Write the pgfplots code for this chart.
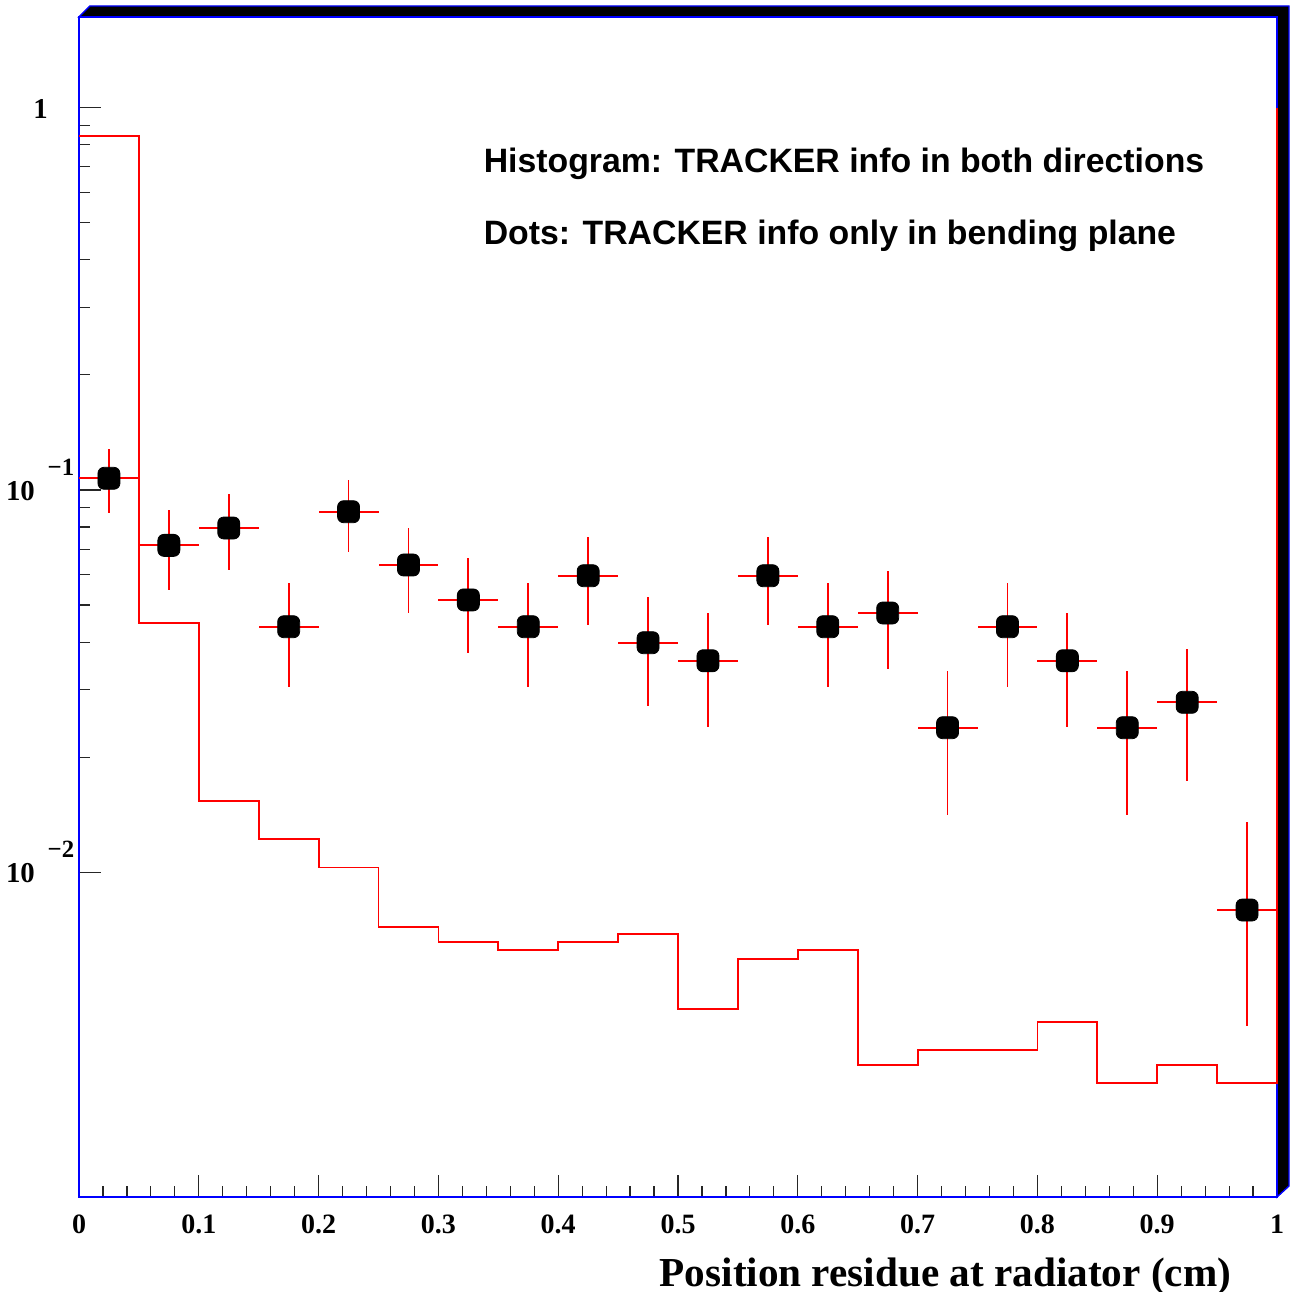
\documentclass[border=0pt]{standalone}
\usepackage{fontspec}
\setmainfont{Liberation Serif}
\newfontfamily\helv{Liberation Sans}
\usepackage{pgfplots}
\usepackage{pgfplotstable}
\pgfplotsset{compat=1.18}

% residue distribution, TRACKER info only in bending plane
\pgfplotstableread{
x      y        ex     eyp      eym
0.025  0.1073   0.025  0.0207   0.0202
0.075  0.07165  0.025  0.0170   0.0168
0.125  0.07955  0.025  0.0181   0.0177
0.175  0.04389  0.025  0.0132   0.0133
0.225  0.08773  0.025  0.0185   0.0188
0.275  0.06366  0.025  0.0159   0.0159
0.325  0.05158  0.025  0.0147   0.0142
0.375  0.04389  0.025  0.0132   0.0133
0.425  0.05967  0.025  0.0155   0.0154
0.475  0.03987  0.025  0.0127   0.0126
0.525  0.03576  0.025  0.0119   0.0118
0.575  0.05967  0.025  0.0155   0.0154
0.625  0.04389  0.025  0.0132   0.0133
0.675  0.04767  0.025  0.0139   0.0137
0.725  0.02389  0.025  0.0098   0.0098
0.775  0.04389  0.025  0.0132   0.0133
0.825  0.03576  0.025  0.0119   0.0118
0.875  0.02389  0.025  0.0098   0.0098
0.925  0.02784  0.025  0.0105   0.0105
0.975  0.00797  0.025  0.00557  0.00401
}\dots

% y-axis power-of-ten label in the style of the original histogram tool
\newcommand{\tenexp}[1]{\textbf{10}\hspace{3.2pt}\raisebox{6.25pt}{\fontsize{6.2}{6.2}\selectfont\textbf{#1}}}

% filled square with rounded corners, built from explicit arcs
\pgfdeclareplotmark{rsquare}{%
  \pgfpathmoveto{\pgfpoint{-0.45\pgfplotmarksize}{-\pgfplotmarksize}}%
  \pgfpathlineto{\pgfpoint{0.45\pgfplotmarksize}{-\pgfplotmarksize}}%
  \pgfpatharc{-90}{0}{0.55\pgfplotmarksize}%
  \pgfpathlineto{\pgfpoint{\pgfplotmarksize}{0.45\pgfplotmarksize}}%
  \pgfpatharc{0}{90}{0.55\pgfplotmarksize}%
  \pgfpathlineto{\pgfpoint{-0.45\pgfplotmarksize}{\pgfplotmarksize}}%
  \pgfpatharc{90}{180}{0.55\pgfplotmarksize}%
  \pgfpathlineto{\pgfpoint{-\pgfplotmarksize}{-0.45\pgfplotmarksize}}%
  \pgfpatharc{180}{270}{0.55\pgfplotmarksize}%
  \pgfpathclose
  \pgfusepathqfillstroke}

\begin{document}
\begin{tikzpicture}[x=0.25pt,y=0.25pt]
\useasboundingbox (0,0) rectangle (1292,1292);
% raised frame on top and right side of the pad
\filldraw[fill=black, draw=blue, line width=0.35pt]
  (79,1275) -- (90,1286) -- (1289,1286) -- (1289,106) -- (1277,95) -- (1277,1275) -- cycle;
\begin{axis}[
  at={(19.75pt,23.75pt)}, anchor=south west,
  scale only axis, width=299.5pt, height=295pt,
  ymode=log, xmin=0, xmax=1, ymin=0.001415, ymax=1.7265,
  clip=false,
  axis line style={blue, line width=0.35pt},
  tick align=inside, xtick pos=bottom, ytick pos=left,
  major tick length=5.5pt, minor tick length=2.75pt,
  every tick/.style={black!85, line width=0.3pt},
  xtick={0,0.1,0.2,0.3,0.4,0.5,0.6,0.7,0.8,0.9,1},
  xticklabels={0,0.1,0.2,0.3,0.4,0.5,0.6,0.7,0.8,0.9,1},
  minor x tick num=4,
  xticklabel style={font=\fontsize{7}{7}\selectfont\bfseries, anchor=base, inner sep=0pt, yshift=-9pt},
  ytick={0.01,0.1,1},
  yticklabels={\tenexp{−2},\tenexp{−1},{\textbf{1}\hspace*{6.6pt}}},
  yticklabel style={font=\fontsize{7.2}{7.2}\selectfont\bfseries, anchor=base east, inner sep=0pt, xshift=-1pt, yshift=-2.6pt},
  xlabel={Position residue at radiator (cm)},
  xlabel style={font=\fontsize{10.3}{10.3}\selectfont\bfseries, at={(axis description cs:0.9624,-0.0762)}, anchor=base east, inner sep=0pt},
]
% histogram: TRACKER info in both directions
\addplot[red, line width=0.45pt, const plot, mark=none] coordinates {
  (0,0.8448) (0.05,0.04480) (0.1,0.01533) (0.15,0.01220) (0.2,0.01030)
  (0.25,0.007206) (0.3,0.006560) (0.35,0.006252) (0.4,0.006560) (0.45,0.006882)
  (0.5,0.004381) (0.55,0.005931) (0.6,0.006252) (0.65,0.003127) (0.7,0.003436)
  (0.75,0.003436) (0.8,0.004060) (0.85,0.002811) (0.9,0.003127) (0.95,0.002811)
  (1,0.002811) (1,1)
};
% dots with error bars
\addplot[
  only marks, mark=rsquare,
  mark size=2.75pt,
  mark options={fill=black, draw=black, line width=0.2pt},
  error bars/.cd,
    x dir=both, x explicit,
    y dir=both, y explicit,
    error mark=none,
    error bar style={red, line width=0.45pt},
] table[x=x, y=y, x error=ex, y error plus=eyp, y error minus=eym] {\dots};
\node[font=\helv\bfseries\fontsize{8.45}{8.45}\selectfont, anchor=base west, inner sep=0pt]
  at (axis description cs:0.3372,0.8678) {Histogram: TRACKER info in both directions};
\node[font=\helv\bfseries\fontsize{8.45}{8.45}\selectfont, anchor=base west, inner sep=0pt]
  at (axis description cs:0.3372,0.8076) {Dots: TRACKER info only in bending plane};
\end{axis}
\end{tikzpicture}
\end{document}
